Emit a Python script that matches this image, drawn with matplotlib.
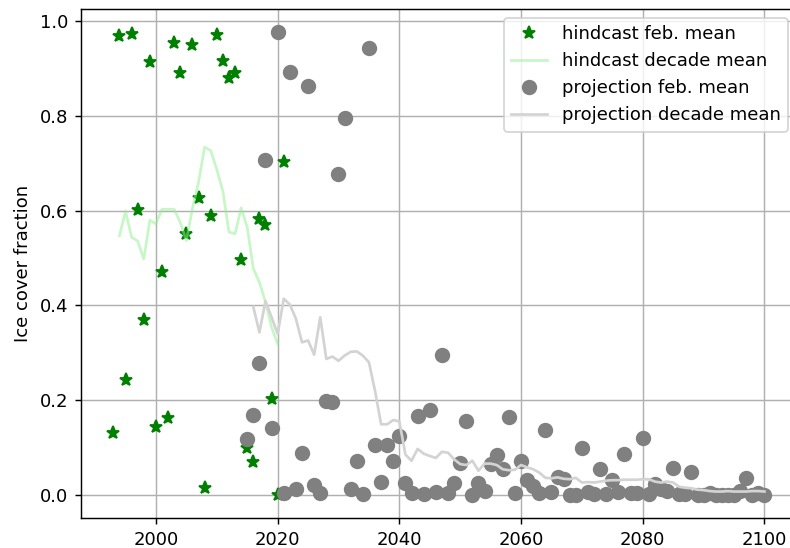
import numpy as np
import matplotlib
matplotlib.use('Agg')
import matplotlib.pyplot as plt

# dados
anos_hind = np.arange(1993, 2022)
hind_fev = [0.130, 0.969, 0.243, 0.974, 0.601, 0.369, 0.915, 0.144, 0.471, 0.163,
            0.954, 0.891, 0.550, 0.949, 0.626, 0.014, 0.588, 0.972, 0.917, 0.880,
            0.890, 0.495, 0.099, 0.070, 0.583, 0.569, 0.203, 0.000, 0.703]

anos_hind_dec = np.arange(1994, 2021)
hind_dec = [0.547, 0.599, 0.544, 0.536, 0.498, 0.580, 0.572, 0.603, 0.603, 0.603,
            0.575, 0.537, 0.605, 0.660, 0.734, 0.727, 0.687, 0.641, 0.555, 0.551,
            0.606, 0.565, 0.478, 0.449, 0.407, 0.354, 0.319]

anos_proj = np.arange(2015, 2101)
proj_fev = [0.119, 0.168, 0.278, 0.706, 0.141, 0.977, 0.004, 0.892, 0.013, 0.089,
            0.864, 0.021, 0.003, 0.199, 0.197, 0.677, 0.796, 0.012, 0.071, 0.001,
            0.943, 0.105, 0.028, 0.105, 0.071, 0.125, 0.024, 0.004, 0.166, 0.001,
            0.180, 0.006, 0.295, 0.004, 0.026, 0.068, 0.156, 0.000, 0.025, 0.009,
            0.065, 0.084, 0.054, 0.165, 0.004, 0.071, 0.031, 0.019, 0.004, 0.137,
            0.005, 0.037, 0.034, 0.000, 0.000, 0.100, 0.005, 0.001, 0.054, 0.001,
            0.031, 0.007, 0.087, 0.004, 0.004, 0.121, 0.001, 0.023, 0.012, 0.009,
            0.056, 0.001, 0.001, 0.049, 0.000, 0.000, 0.004, 0.000, 0.000, 0.000,
            0.000, 0.009, 0.035, 0.000, 0.004, 0.000]

anos_proj_dec = np.arange(2016, 2101)
proj_dec = [0.397, 0.343, 0.409, 0.375, 0.340, 0.414, 0.402, 0.372, 0.322, 0.326,
            0.296, 0.375, 0.287, 0.292, 0.283, 0.294, 0.302, 0.303, 0.294, 0.280,
            0.220, 0.149, 0.149, 0.158, 0.155, 0.085, 0.072, 0.097, 0.087, 0.082,
            0.078, 0.091, 0.089, 0.075, 0.065, 0.063, 0.072, 0.051, 0.066, 0.066,
            0.063, 0.054, 0.052, 0.053, 0.063, 0.058, 0.054, 0.047, 0.036, 0.035,
            0.037, 0.034, 0.033, 0.036, 0.026, 0.027, 0.026, 0.028, 0.030, 0.031,
            0.031, 0.032, 0.032, 0.032, 0.033, 0.033, 0.028, 0.026, 0.028, 0.026,
            0.017, 0.015, 0.014, 0.011, 0.010, 0.008, 0.007, 0.007, 0.008, 0.007,
            0.007, 0.007, 0.008, 0.008, 0.007]

# figura (790x548 px)
fig = plt.figure(figsize=(790/130, 548/130), dpi=130)
ax = fig.add_axes([80.8/790, 30/548, 716.2/790, 509/548])

ax.plot(anos_hind, hind_fev, '*', color='green', ms=7.5, label='hindcast feb. mean')
ax.plot(anos_hind_dec, hind_dec, color='lightgreen', alpha=0.5, label='hindcast decade mean')
ax.plot(anos_proj, proj_fev, 'o', color='grey', ms=7.5, label='projection feb. mean')
ax.plot(anos_proj_dec, proj_dec, color='lightgrey', label='projection decade mean')

ax.set_ylabel('Ice cover fraction')
ax.set_xticks([2000, 2020, 2040, 2060, 2080, 2100])
ax.grid(True)
ax.legend(loc='upper right')

fig.savefig('out.png', dpi=130)
